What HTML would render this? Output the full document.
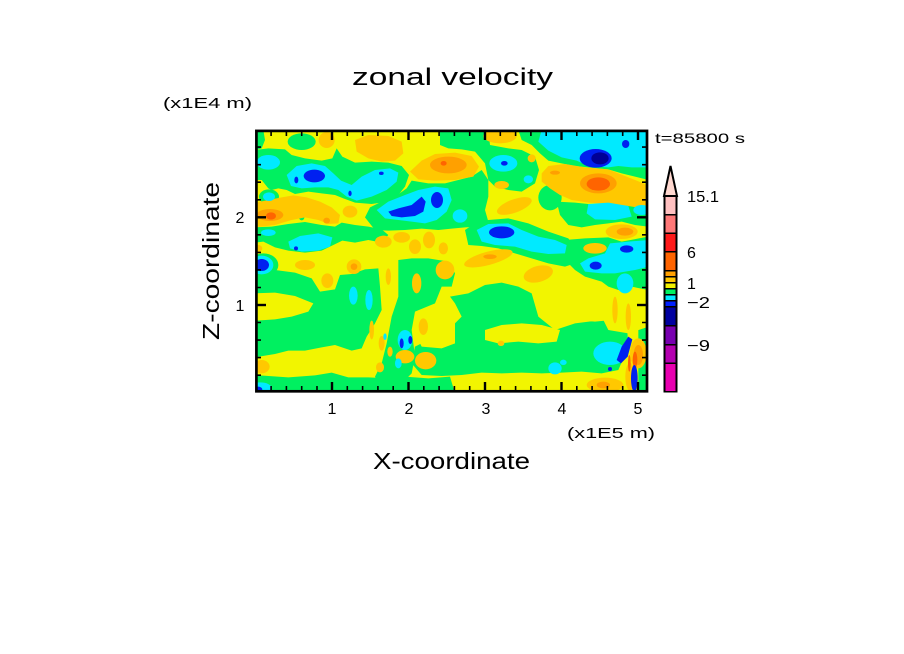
<!DOCTYPE html>
<html><head><meta charset="utf-8">
<style>
html,body{margin:0;padding:0;background:#fff;}
svg{display:block;}
text{font-family:"Liberation Sans",sans-serif;fill:#000;}
</style></head>
<body>
<svg width="904" height="654" viewBox="0 0 904 654" xmlns="http://www.w3.org/2000/svg">
<defs>
<clipPath id="pc"><rect x="256" y="131" width="391" height="261"/></clipPath>
</defs>
<rect width="904" height="654" fill="#fff"/>

<g clip-path="url(#pc)">
<g transform="translate(255,130) scale(0.333333)">
<rect x="0" y="0" width="1180" height="790" fill="#f2f500"/>

<!-- GREEN -->
<g fill="#00f060">
<polygon points="0,0 25,0 30,30 20,55 0,60"/>
<ellipse cx="140" cy="35" rx="42" ry="25"/>
<polygon points="0,60 40,55 90,58 110,75 150,85 200,92 232,85 245,55 262,80 300,98 350,95 400,98 440,108 462,135 450,170 430,195 400,215 350,222 300,218 265,205 240,195 200,190 160,185 120,192 95,180 70,175 50,180 40,175 20,150 0,150"/>
<ellipse cx="42" cy="200" rx="30" ry="22"/>
<polygon points="0,292 50,290 100,282 150,276 200,285 240,290 260,278 300,285 340,290 380,298 400,315 380,338 340,330 300,338 262,332 235,345 200,362 150,368 100,362 60,352 25,335 0,338"/>
<ellipse cx="25" cy="405" rx="45" ry="35"/>
<polygon points="330,262 345,232 380,215 420,200 455,175 470,152 520,160 570,160 610,150 650,140 680,120 700,150 700,200 690,240 700,275 670,290 630,292 590,296 550,300 500,296 450,300 400,302 360,300"/>
<polygon points="555,0 700,0 705,45 760,55 800,60 840,80 852,120 840,160 800,185 760,180 720,170 700,150 690,100 660,65 620,58 580,55 555,45"/>
<polygon points="790,0 1180,0 1180,150 1140,140 1100,130 1060,118 1000,112 960,108 920,100 880,92 855,70 830,45 800,30"/>
<ellipse cx="885" cy="203" rx="35" ry="38"/>
<polygon points="905,215 960,218 1000,222 1060,225 1120,222 1180,215 1180,290 1140,285 1100,275 1060,280 1020,285 980,292 940,285 915,255"/>
<polygon points="630,300 660,280 700,270 760,265 820,280 880,305 940,325 965,360 960,400 930,410 880,400 830,385 780,370 730,355 680,348 640,345"/>
<polygon points="930,330 990,325 1060,322 1100,335 1180,320 1180,480 1130,470 1090,480 1060,470 1040,455 990,440 960,420 935,395"/>
<polygon points="0,418 60,420 120,428 170,445 195,485 240,478 255,435 290,432 330,418 370,415 375,470 380,540 360,580 335,620 320,655 290,662 240,645 200,652 150,662 100,662 60,672 0,682"/>
<polygon points="430,390 470,385 520,385 580,395 600,430 590,470 560,470 540,520 480,545 470,600 480,680 470,730 440,760 420,785 380,785 360,740 380,700 395,640 410,560 430,500"/>
<polygon points="585,500 640,490 690,465 740,458 790,470 830,490 850,560 900,600 960,580 1040,570 1115,575 1120,650 1090,720 1040,730 980,725 920,728 860,730 800,728 740,730 680,728 620,735 560,738 500,735 470,700 480,650 520,630 580,600 620,560 600,520"/>
<polygon points="0,735 100,742 180,736 230,728 280,742 340,742 400,745 450,740 520,745 585,740 600,790 0,790"/>
<polygon points="1150,600 1180,590 1180,790 1150,790"/>
<ellipse cx="140" cy="263" rx="8" ry="8"/>
</g>

<!-- YELLOW overlays inside green -->
<g fill="#f2f500">
<polygon points="0,490 60,488 120,498 175,520 160,545 110,560 60,568 0,572"/>
<polygon points="690,600 740,585 800,580 860,585 915,600 905,635 850,640 790,635 730,640 690,630"/>
<polygon points="870,480 930,470 1000,480 1060,500 1085,540 1070,570 1020,575 960,570 910,560 880,530"/>
<polygon points="1035,500 1100,490 1180,490 1180,590 1120,610 1060,600 1040,560"/>
<polygon points="480,555 540,545 600,560 600,640 560,655 500,650 480,610"/>
</g>

<!-- GOLD -->
<g fill="#ffc800">
<ellipse cx="215" cy="30" rx="24" ry="24"/>
<polygon points="300,30 340,15 400,18 440,35 445,70 420,92 380,95 340,85 305,65"/>
<polygon points="465,125 500,92 540,72 600,68 650,78 672,110 655,140 600,150 540,152 490,148"/>
<ellipse cx="735" cy="18" rx="50" ry="22"/>
<ellipse cx="740" cy="165" rx="22" ry="12"/>
<ellipse cx="778" cy="228" rx="55" ry="20" transform="rotate(-20 778 228)"/>
<ellipse cx="830" cy="85" rx="12" ry="12"/>
<polygon points="860,130 880,108 930,102 990,112 1060,118 1110,138 1160,158 1180,168 1180,238 1120,228 1060,222 1000,218 950,210 915,195 885,175 860,155"/>
<polygon points="0,218 40,210 80,202 115,196 155,202 195,215 230,232 255,255 250,280 220,282 190,270 150,262 110,270 60,285 20,290 0,290"/>
<ellipse cx="285" cy="245" rx="22" ry="18"/>
<ellipse cx="1100" cy="305" rx="48" ry="22"/>
<ellipse cx="1020" cy="355" rx="35" ry="16"/>
<ellipse cx="385" cy="335" rx="25" ry="18"/>
<ellipse cx="440" cy="322" rx="25" ry="16"/>
<ellipse cx="480" cy="350" rx="18" ry="22"/>
<ellipse cx="522" cy="330" rx="18" ry="25"/>
<ellipse cx="565" cy="355" rx="14" ry="18"/>
<ellipse cx="700" cy="385" rx="75" ry="20" transform="rotate(-15 700 385)"/>
<ellipse cx="850" cy="432" rx="45" ry="24" transform="rotate(-15 850 432)"/>
<ellipse cx="150" cy="405" rx="30" ry="15"/>
<ellipse cx="217" cy="452" rx="18" ry="22"/>
<ellipse cx="297" cy="410" rx="22" ry="22"/>
<ellipse cx="485" cy="460" rx="14" ry="30"/>
<ellipse cx="570" cy="420" rx="28" ry="28"/>
<ellipse cx="505" cy="590" rx="14" ry="25"/>
<ellipse cx="450" cy="680" rx="28" ry="20"/>
<ellipse cx="512" cy="692" rx="32" ry="26"/>
<ellipse cx="350" cy="600" rx="7" ry="28"/>
<ellipse cx="380" cy="640" rx="9" ry="22"/>
<ellipse cx="405" cy="665" rx="8" ry="15"/>
<ellipse cx="375" cy="712" rx="12" ry="15"/>
<ellipse cx="400" cy="440" rx="8" ry="25"/>
<ellipse cx="20" cy="710" rx="24" ry="20"/>
<ellipse cx="10" cy="355" rx="12" ry="10"/>
<ellipse cx="1050" cy="765" rx="55" ry="22"/>
<ellipse cx="1150" cy="670" rx="25" ry="45"/>
<ellipse cx="1125" cy="740" rx="14" ry="42"/>
<ellipse cx="1080" cy="540" rx="8" ry="40"/>
<ellipse cx="1120" cy="560" rx="8" ry="40"/>
<ellipse cx="738" cy="640" rx="10" ry="8"/>
</g>

<!-- ORANGE -->
<g fill="#ffa000">
<ellipse cx="45" cy="255" rx="40" ry="18"/>
<ellipse cx="580" cy="105" rx="55" ry="25"/>
<ellipse cx="1030" cy="160" rx="55" ry="30"/>
<ellipse cx="900" cy="128" rx="15" ry="6"/>
<ellipse cx="215" cy="272" rx="10" ry="9"/>
<ellipse cx="1110" cy="305" rx="25" ry="12"/>
<ellipse cx="297" cy="410" rx="10" ry="10"/>
<ellipse cx="1150" cy="675" rx="14" ry="30"/>
<ellipse cx="705" cy="380" rx="20" ry="7"/>
<ellipse cx="1045" cy="765" rx="20" ry="10"/>
</g>
<g fill="#ff6400">
<ellipse cx="48" cy="258" rx="15" ry="11"/>
<ellipse cx="1030" cy="162" rx="35" ry="20"/>
<ellipse cx="566" cy="100" rx="9" ry="7"/>
<ellipse cx="1140" cy="690" rx="7" ry="25"/>
<ellipse cx="1123" cy="700" rx="4" ry="25"/>
</g>

<!-- CYAN -->
<g fill="#00eaff">
<ellipse cx="40" cy="97" rx="35" ry="22"/>
<polygon points="95,135 125,108 170,100 210,108 235,130 258,152 290,165 320,140 360,120 405,115 430,128 425,155 395,180 350,200 305,212 275,200 250,180 220,172 180,172 140,175 108,168"/>
<ellipse cx="42" cy="200" rx="18" ry="13"/>
<polygon points="100,335 135,318 190,310 232,322 225,350 190,362 140,365 105,355"/>
<ellipse cx="40" cy="308" rx="22" ry="10"/>
<ellipse cx="20" cy="405" rx="35" ry="28"/>
<polygon points="365,240 400,215 450,195 490,180 540,170 580,175 590,210 575,245 545,270 510,280 470,275 430,270 390,265"/>
<ellipse cx="615" cy="258" rx="22" ry="20"/>
<ellipse cx="745" cy="100" rx="42" ry="25"/>
<ellipse cx="820" cy="148" rx="14" ry="12"/>
<polygon points="860,0 1180,0 1180,112 1130,112 1090,108 1060,112 1000,108 965,92 920,82 880,62 850,35"/>
<polygon points="1000,222 1060,218 1120,228 1130,260 1080,270 1020,268 995,250"/>
<ellipse cx="1160" cy="240" rx="25" ry="15"/>
<polygon points="665,300 700,282 760,280 800,300 850,320 900,330 935,345 930,370 880,372 830,365 780,350 720,345 680,335"/>
<polygon points="1065,340 1120,335 1180,330 1180,410 1140,420 1080,430 1040,430 990,425 975,400 1000,385 1050,370"/>
<ellipse cx="1110" cy="460" rx="25" ry="30"/>
<ellipse cx="1065" cy="670" rx="50" ry="35"/>
<ellipse cx="925" cy="697" rx="10" ry="8"/>
<ellipse cx="900" cy="715" rx="20" ry="18"/>
<ellipse cx="295" cy="497" rx="13" ry="27"/>
<ellipse cx="342" cy="510" rx="11" ry="30"/>
<ellipse cx="450" cy="630" rx="22" ry="30"/>
<ellipse cx="390" cy="620" rx="5" ry="10"/>
<ellipse cx="430" cy="700" rx="10" ry="15"/>
<ellipse cx="15" cy="775" rx="35" ry="18"/>
</g>

<!-- BLUE -->
<g fill="#0020f0">
<ellipse cx="178" cy="138" rx="32" ry="19"/>
<ellipse cx="124" cy="150" rx="6" ry="10"/>
<ellipse cx="379" cy="130" rx="7" ry="5"/>
<ellipse cx="285" cy="190" rx="5" ry="8"/>
<ellipse cx="123" cy="355" rx="6" ry="6"/>
<ellipse cx="20" cy="405" rx="22" ry="18"/>
<polygon points="400,245 430,235 470,225 500,200 512,215 505,245 480,258 440,262 410,258"/>
<ellipse cx="546" cy="210" rx="18" ry="24"/>
<ellipse cx="748" cy="100" rx="10" ry="7"/>
<ellipse cx="1022" cy="85" rx="48" ry="28"/>
<ellipse cx="1112" cy="42" rx="11" ry="12"/>
<ellipse cx="740" cy="307" rx="38" ry="18"/>
<ellipse cx="1115" cy="357" rx="20" ry="11"/>
<ellipse cx="1022" cy="407" rx="18" ry="12"/>
<ellipse cx="440" cy="640" rx="6" ry="15"/>
<ellipse cx="466" cy="630" rx="6" ry="12"/>
<polygon points="1120,620 1132,628 1118,680 1098,700 1085,690 1100,650"/>
<ellipse cx="1138" cy="745" rx="10" ry="40"/>
<ellipse cx="1065" cy="717" rx="6" ry="6"/>
<ellipse cx="10" cy="778" rx="12" ry="8"/>
</g>
<ellipse cx="1035" cy="85" rx="26" ry="18" fill="#000096"/>
</g>
</g>

<!-- frame -->
<rect x="256.4" y="130.9" width="390.6" height="260.4" fill="none" stroke="#000" stroke-width="2.7"/>

<!-- ticks -->
<g stroke="#000" stroke-width="2.4">
<line x1="332" y1="131" x2="332" y2="140"/><line x1="408.5" y1="131" x2="408.5" y2="140"/><line x1="485" y1="131" x2="485" y2="140"/><line x1="561.5" y1="131" x2="561.5" y2="140"/><line x1="638" y1="131" x2="638" y2="140"/>
<line x1="332" y1="391" x2="332" y2="382"/><line x1="408.5" y1="391" x2="408.5" y2="382"/><line x1="485" y1="391" x2="485" y2="382"/><line x1="561.5" y1="391" x2="561.5" y2="382"/><line x1="638" y1="391" x2="638" y2="382"/>
<line x1="256" y1="217.3" x2="266" y2="217.3"/><line x1="256" y1="305" x2="266" y2="305"/>
<line x1="647" y1="217.3" x2="637" y2="217.3"/><line x1="647" y1="305" x2="637" y2="305"/>
</g>
<g stroke="#000" stroke-width="1.6">
<path d="M271.1 131v5M286.4 131v5M301.7 131v5M317 131v5M347.3 131v5M362.6 131v5M377.9 131v5M393.2 131v5M423.8 131v5M439.1 131v5M454.4 131v5M469.7 131v5M500.3 131v5M515.6 131v5M530.9 131v5M546.2 131v5M576.8 131v5M592.1 131v5M607.4 131v5M622.7 131v5"/>
<path d="M271.1 391v-5M286.4 391v-5M301.7 391v-5M317 391v-5M347.3 391v-5M362.6 391v-5M377.9 391v-5M393.2 391v-5M423.8 391v-5M439.1 391v-5M454.4 391v-5M469.7 391v-5M500.3 391v-5M515.6 391v-5M530.9 391v-5M546.2 391v-5M576.8 391v-5M592.1 391v-5M607.4 391v-5M622.7 391v-5"/>
<path d="M256 375.2h5M256 357.6h5M256 340.1h5M256 322.5h5M256 287.5h5M256 269.9h5M256 252.4h5M256 234.8h5M256 199.8h5M256 182.2h5M256 164.7h5M256 147.1h5"/>
<path d="M647 375.2h-5M647 357.6h-5M647 340.1h-5M647 322.5h-5M647 287.5h-5M647 269.9h-5M647 252.4h-5M647 234.8h-5M647 199.8h-5M647 182.2h-5M647 164.7h-5M647 147.1h-5"/>
</g>

<!-- texts -->
<text x="352" y="85" font-size="24" textLength="201" lengthAdjust="spacingAndGlyphs">zonal velocity</text>
<text x="163" y="108" font-size="15" textLength="89" lengthAdjust="spacingAndGlyphs">(x1E4 m)</text>
<text transform="translate(219,340) rotate(-90)" x="0" y="0" font-size="23" textLength="158" lengthAdjust="spacingAndGlyphs">Z-coordinate</text>
<text x="373" y="469" font-size="23" textLength="157" lengthAdjust="spacingAndGlyphs">X-coordinate</text>
<g font-size="16" text-anchor="middle">
<text x="332" y="414">1</text><text x="409" y="414">2</text><text x="486" y="414">3</text><text x="562" y="414">4</text><text x="638" y="414">5</text>
<text x="240" y="223">2</text><text x="240" y="311">1</text>
</g>
<text x="567" y="438" font-size="15" textLength="88" lengthAdjust="spacingAndGlyphs">(x1E5 m)</text>
<text x="655" y="143" font-size="14" textLength="90" lengthAdjust="spacingAndGlyphs">t=85800 s</text>

<!-- colorbar -->
<polygon points="664,196 670.5,166 677,196" fill="#ffd8d0" stroke="#000" stroke-width="2"/>
<rect x="663.5" y="195.5" width="14" height="197" fill="#000"/>
<rect x="665.5" y="197" width="10" height="17" fill="#ffc0c0"/>
<rect x="665.5" y="215.5" width="10" height="17" fill="#ff7878"/>
<rect x="665.5" y="234" width="10" height="17" fill="#ff1a1a"/>
<rect x="665.5" y="252.5" width="10" height="17.5" fill="#ff6400"/>
<rect x="665.5" y="271.5" width="10" height="4.5" fill="#ffa000"/>
<rect x="665.5" y="277.5" width="10" height="4.5" fill="#ffc800"/>
<rect x="665.5" y="283.5" width="10" height="4.5" fill="#f0f000"/>
<rect x="665.5" y="289.5" width="10" height="4.5" fill="#00f060"/>
<rect x="665.5" y="295.5" width="10" height="4.5" fill="#00e8ff"/>
<rect x="665.5" y="301.5" width="10" height="4.5" fill="#0020ff"/>
<rect x="665.5" y="307.5" width="10" height="17.5" fill="#0000a0"/>
<rect x="665.5" y="326.5" width="10" height="17.5" fill="#7800b0"/>
<rect x="665.5" y="345.5" width="10" height="17" fill="#b400b0"/>
<rect x="665.5" y="364" width="10" height="27" fill="#e800b0"/>
<g font-size="16">
<text x="687" y="202" textLength="32" lengthAdjust="spacingAndGlyphs">15.1</text>
<text x="687" y="258">6</text>
<text x="687" y="289">1</text>
<text x="687" y="308" textLength="23" lengthAdjust="spacingAndGlyphs">−2</text>
<text x="687" y="351" textLength="23" lengthAdjust="spacingAndGlyphs">−9</text>
</g>
</svg>
</body></html>
